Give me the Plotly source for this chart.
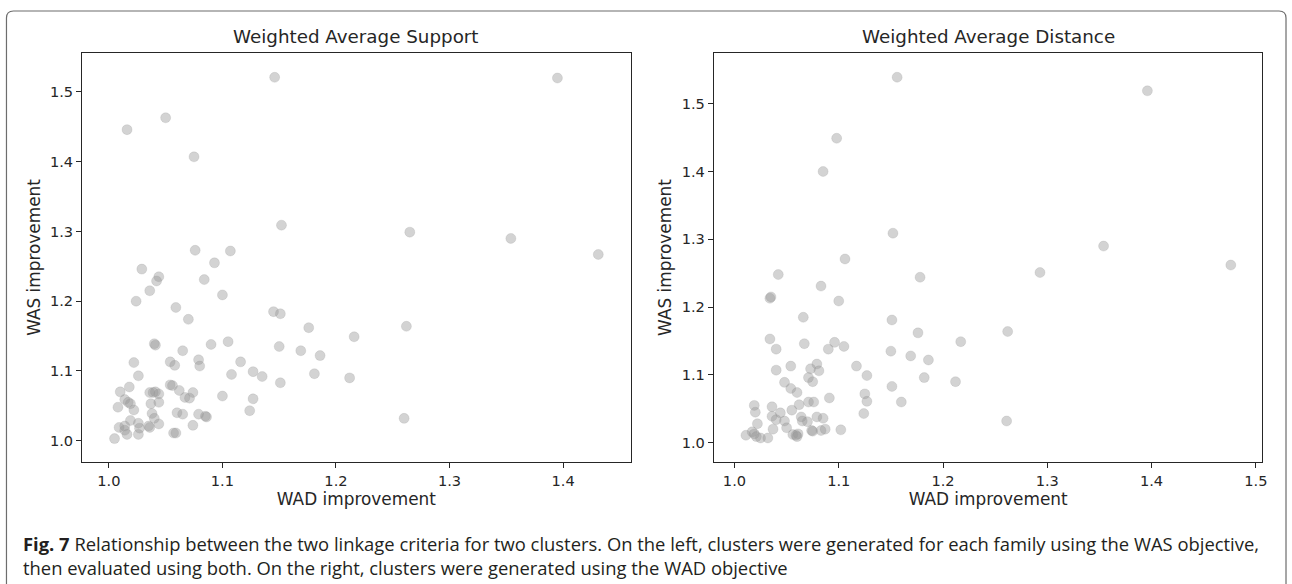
import plotly.graph_objects as go

# ---- Data: left panel (clusters generated with WAS objective) ----
was_obj_wad = [1.152, 1.076, 1.107, 1.029, 1.093, 1.044, 1.042, 1.084, 1.036, 1.024,
               1.100, 1.059, 1.070, 1.145, 1.151, 1.176, 1.216, 1.040, 1.041, 1.090,
               1.105, 1.065, 1.150, 1.169, 1.186, 1.022, 1.054, 1.058, 1.079, 1.080,
               1.116, 1.026, 1.108, 1.127, 1.135, 1.151, 1.181, 1.212, 1.010, 1.018,
               1.014, 1.017, 1.019, 1.008, 1.022, 1.036, 1.041, 1.044, 1.039, 1.037,
               1.044, 1.054, 1.056, 1.062, 1.074, 1.067, 1.071, 1.100, 1.127, 1.124,
               1.038, 1.040, 1.060, 1.065, 1.079, 1.085, 1.086, 1.019, 1.026, 1.009,
               1.014, 1.014, 1.016, 1.027, 1.026, 1.035, 1.036, 1.044, 1.074, 1.057,
               1.059, 1.005, 1.016, 1.050, 1.075, 1.146, 1.395, 1.265, 1.354, 1.431,
               1.262, 1.260]
was_obj_was = [1.309, 1.273, 1.272, 1.246, 1.255, 1.235, 1.229, 1.231, 1.215, 1.200,
               1.209, 1.191, 1.174, 1.185, 1.182, 1.162, 1.149, 1.139, 1.137, 1.138,
               1.142, 1.129, 1.135, 1.129, 1.122, 1.112, 1.113, 1.108, 1.116, 1.107,
               1.113, 1.093, 1.095, 1.099, 1.092, 1.083, 1.096, 1.090, 1.070, 1.077,
               1.059, 1.055, 1.053, 1.048, 1.044, 1.069, 1.070, 1.067, 1.069, 1.053,
               1.055, 1.080, 1.079, 1.072, 1.069, 1.062, 1.061, 1.064, 1.060, 1.043,
               1.039, 1.032, 1.040, 1.038, 1.038, 1.035, 1.034, 1.029, 1.025, 1.019,
               1.021, 1.015, 1.009, 1.018, 1.009, 1.021, 1.019, 1.024, 1.022, 1.011,
               1.011, 1.003, 1.446, 1.463, 1.407, 1.521, 1.520, 1.299, 1.290, 1.267,
               1.164, 1.032]

# ---- Data: right panel (clusters generated with WAD objective) ----
wad_obj_wad = [1.106, 1.042, 1.178, 1.083, 1.034, 1.035, 1.100, 1.066, 1.151, 1.176,
               1.034, 1.067, 1.096, 1.105, 1.040, 1.090, 1.150, 1.217, 1.169, 1.186,
               1.117, 1.054, 1.079, 1.073, 1.081, 1.040, 1.127, 1.071, 1.075, 1.182,
               1.212, 1.048, 1.151, 1.054, 1.060, 1.125, 1.091, 1.127, 1.160, 1.071,
               1.076, 1.062, 1.019, 1.020, 1.036, 1.044, 1.055, 1.124, 1.079, 1.085,
               1.036, 1.040, 1.048, 1.064, 1.065, 1.070, 1.022, 1.037, 1.050, 1.074,
               1.075, 1.083, 1.087, 1.102, 1.011, 1.017, 1.019, 1.021, 1.025, 1.032,
               1.056, 1.059, 1.061, 1.060, 1.156, 1.098, 1.085, 1.152, 1.396, 1.354,
               1.293, 1.476, 1.262, 1.261]
wad_obj_was = [1.271, 1.248, 1.244, 1.231, 1.213, 1.215, 1.209, 1.185, 1.181, 1.162,
               1.153, 1.146, 1.148, 1.142, 1.138, 1.138, 1.135, 1.149, 1.128, 1.122,
               1.113, 1.113, 1.116, 1.109, 1.106, 1.107, 1.099, 1.096, 1.090, 1.096,
               1.090, 1.089, 1.083, 1.080, 1.074, 1.072, 1.066, 1.061, 1.060, 1.060,
               1.060, 1.056, 1.055, 1.045, 1.053, 1.044, 1.048, 1.043, 1.038, 1.036,
               1.039, 1.034, 1.032, 1.038, 1.032, 1.031, 1.028, 1.020, 1.022, 1.018,
               1.017, 1.018, 1.020, 1.019, 1.011, 1.016, 1.013, 1.009, 1.007, 1.007,
               1.012, 1.011, 1.013, 1.009, 1.539, 1.449, 1.400, 1.309, 1.519, 1.290,
               1.251, 1.262, 1.164, 1.032]

panel_titles = ["Weighted Average Support", "Weighted Average Distance"]
x_label = "WAD improvement"
y_label = "WAS improvement"
left_xticks = [1.0, 1.1, 1.2, 1.3, 1.4]
right_xticks = [1.0, 1.1, 1.2, 1.3, 1.4, 1.5]
yticks = [1.0, 1.1, 1.2, 1.3, 1.4, 1.5]
caption_bold = "Fig. 7"
caption_line1 = (" Relationship between the two linkage criteria for two clusters. On the left, "
                 "clusters were generated for each family using the WAS objective,")
caption_line2 = "then evaluated using both. On the right, clusters were generated using the WAD objective"

W, H = 1292, 584
FONT = "DejaVu Sans"
INK = "#262626"


def px_x(p):
    return p / W


def px_y(p):
    return 1 - p / H


marker = dict(size=10, color="rgba(150,150,150,0.42)",
              line=dict(width=0.6, color="rgba(140,140,140,0.3)"))

fig = go.Figure()
fig.add_trace(go.Scatter(x=was_obj_wad, y=was_obj_was, mode="markers", marker=marker,
                         xaxis="x", yaxis="y", showlegend=False))
fig.add_trace(go.Scatter(x=wad_obj_wad, y=wad_obj_was, mode="markers", marker=marker,
                         xaxis="x2", yaxis="y2", showlegend=False))

axis_common = dict(showline=True, linecolor=INK, linewidth=1.2, mirror=True,
                   ticks="outside", ticklen=5, tickwidth=1.2, tickcolor=INK,
                   showgrid=False, zeroline=False,
                   tickfont=dict(family=FONT, size=14.6, color=INK),
                   title_font=dict(family=FONT, size=16.9, color=INK))

y_top, y_bot = 52.7, 462.3
fig.update_layout(
    width=W, height=H,
    margin=dict(l=0, r=0, t=0, b=0),
    paper_bgcolor="white", plot_bgcolor="white",
    xaxis=dict(domain=[px_x(82.5), px_x(633)], range=[0.9765, 1.4594],
               tickvals=left_xticks, ticktext=[f"{v:.1f}" for v in left_xticks],
               anchor="y", title=dict(text=x_label, standoff=5), **axis_common),
    yaxis=dict(domain=[px_y(y_bot), px_y(y_top)], range=[0.969, 1.5563],
               tickvals=yticks, ticktext=[f"{v:.1f}" for v in yticks],
               anchor="x", title=dict(text=y_label, standoff=5), **axis_common),
    xaxis2=dict(domain=[px_x(716.7), px_x(1267.3)], range=[0.9803, 1.5063],
                tickvals=right_xticks, ticktext=[f"{v:.1f}" for v in right_xticks],
                anchor="y2", title=dict(text=x_label, standoff=5), **axis_common),
    yaxis2=dict(domain=[px_y(y_bot), px_y(y_top)], range=[0.9711, 1.5752],
                tickvals=yticks, ticktext=[f"{v:.1f}" for v in yticks],
                anchor="x2", title=dict(text=y_label, standoff=5), **axis_common),
)

# Panel titles
for title, cx in zip(panel_titles, [(82.5 + 633) / 2, (716.7 + 1267.3) / 2]):
    fig.add_annotation(text=title, x=px_x(cx), y=px_y(37), xref="paper", yref="paper",
                       xanchor="center", yanchor="middle", showarrow=False,
                       font=dict(family=FONT, size=18.3, color=INK))

# Caption (single two-line text block)
fig.add_annotation(text=f"<b>{caption_bold}</b>{caption_line1}<br>{caption_line2}",
                   x=px_x(21), y=px_y(555), xref="paper", yref="paper",
                   xanchor="left", yanchor="middle", align="left", showarrow=False,
                   font=dict(family="Open Sans", size=18.4, color="#231f20"))

# Rounded outer frame (extends below the visible area)
r = 7
x0, x1, yt, yb = 6.5, 1291, 11, 620
path = (f"M {px_x(x0)},{px_y(yb)} L {px_x(x0)},{px_y(yt + r)} "
        f"Q {px_x(x0)},{px_y(yt)} {px_x(x0 + r)},{px_y(yt)} "
        f"L {px_x(x1 - r)},{px_y(yt)} Q {px_x(x1)},{px_y(yt)} {px_x(x1)},{px_y(yt + r)} "
        f"L {px_x(x1)},{px_y(yb)}")
fig.add_shape(type="path", path=path, xref="paper", yref="paper",
              line=dict(color="#6d6d6d", width=1.2))

fig.write_html("out.html")
